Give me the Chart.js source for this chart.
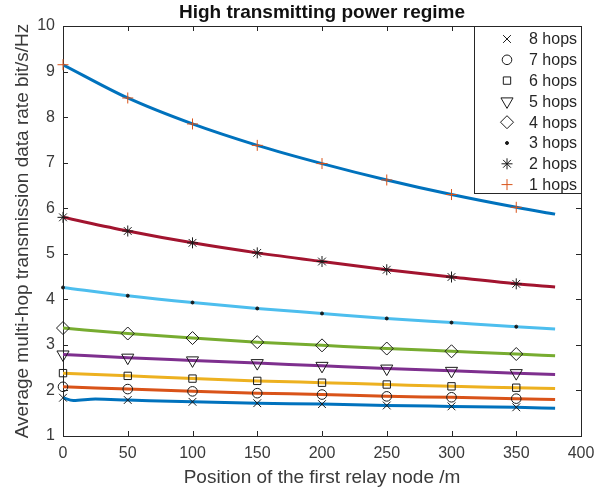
<!DOCTYPE html>
<html>
<head>
<meta charset="utf-8">
<script src="https://cdn.jsdelivr.net/npm/chart.js@4.4.1/dist/chart.umd.min.js"></script>
<style>
  html, body { margin: 0; padding: 0; background: #fff; }
</style>
</head>
<body>
<canvas id="rate" width="607" height="491"></canvas>
<script>
// relay position (m) where markers sit, and where the curves stop
const positions = [0, 50, 100, 150, 200, 250, 300, 350];
const curveEnd = 380;

// average data rate (bit/s/Hz) at each position, last value is at curveEnd
const hops1 = [9.15, 8.42, 7.85, 7.38, 6.98, 6.62, 6.30, 6.02, 5.87];
const hops2 = [5.80, 5.50, 5.24, 5.02, 4.83, 4.65, 4.49, 4.34, 4.27];
const hops3 = [4.26, 4.08, 3.93, 3.80, 3.69, 3.58, 3.49, 3.40, 3.35];
const hops4 = [3.37, 3.25, 3.15, 3.06, 2.99, 2.92, 2.86, 2.80, 2.76];
const hops5 = [2.79, 2.72, 2.66, 2.60, 2.54, 2.48, 2.43, 2.38, 2.35];
const hops6 = [2.38, 2.32, 2.26, 2.21, 2.17, 2.13, 2.09, 2.06, 2.04];
const hops7 = [2.08, 2.03, 1.98, 1.94, 1.91, 1.87, 1.85, 1.82, 1.80];
const hops8 = [1.84, 1.79, 1.75, 1.72, 1.70, 1.67, 1.65, 1.63, 1.61];
// small wiggle of the 8 hops curve close to the source
const hops8DipX = [8, 25];
const hops8Dip = [1.78, 1.81];

const labels = ['1 hops', '2 hops', '3 hops', '4 hops', '5 hops', '6 hops', '7 hops', '8 hops'];
const series = [hops1, hops2, hops3, hops4, hops5, hops6, hops7, hops8];

const xTicks = [0, 50, 100, 150, 200, 250, 300, 350, 400];
const yTicks = [1, 2, 3, 4, 5, 6, 7, 8, 9, 10];

const chartTitle = 'High transmitting power regime';

// matlab default line colours
const lineColors = ['#0072BD', '#A2142F', '#4DBEEE', '#77AC30', '#7E2F8E', '#EDB120', '#D95319', '#0072BD'];
const markers = [
  { style: 'cross', radius: 5.5, color: '#D95319' },
  { style: 'star', radius: 5.5, color: '#1a1a1a' },
  { style: 'circle', radius: 1.5, color: '#1a1a1a', fill: true },
  { style: 'rectRot', radius: 6.5, color: '#1a1a1a' },
  { style: 'triangle', radius: 7, color: '#1a1a1a', rotation: 180 },
  { style: 'rect', radius: 5.2, color: '#1a1a1a' },
  { style: 'circle', radius: 4.8, color: '#1a1a1a' },
  { style: 'crossRot', radius: 5.5, color: '#1a1a1a' }
];

const axisColor = '#262626';
const textColor = '#3a3a3a';
const fontFamily = '"Liberation Sans", Arial, Helvetica, sans-serif';

function curvePoints(values, extraX, extraY) {
  const xs = positions.concat([curveEnd]);
  const pts = xs.map((x, i) => ({ x: x, y: values[i] }));
  if (extraX) {
    extraX.forEach((x, i) => pts.push({ x: x, y: extraY[i] }));
    pts.sort((a, b) => a.x - b.x);
  }
  return pts;
}

const datasets = [];
series.forEach((values, i) => {
  datasets.push({
    label: labels[i] + ' curve',
    data: i === 7 ? curvePoints(values, hops8DipX, hops8Dip) : curvePoints(values),
    showLine: true,
    borderColor: lineColors[i],
    borderWidth: 3,
    pointRadius: 0,
    cubicInterpolationMode: 'monotone',
    order: 2
  });
});
series.forEach((values, i) => {
  const m = markers[i];
  datasets.push({
    label: labels[i],
    data: positions.map((x, j) => ({ x: x, y: values[j] })),
    showLine: false,
    clip: false,
    pointStyle: m.style,
    pointRadius: m.radius,
    pointRotation: m.rotation || 0,
    pointBorderColor: m.color,
    pointBackgroundColor: m.fill ? m.color : 'rgba(0,0,0,0)',
    pointBorderWidth: 1,
    order: 1
  });
});

// box around the axes, inward ticks, title over the plot and the legend in the top right corner
const axesBox = {
  id: 'axesBox',
  afterDraw(chart) {
    const { ctx, chartArea: a, scales } = chart;
    const tick = 5;
    ctx.save();
    ctx.strokeStyle = axisColor;
    ctx.lineWidth = 1;
    ctx.beginPath();
    ctx.moveTo(a.left, a.top + 0.5);
    ctx.lineTo(a.right + 0.5, a.top + 0.5);
    ctx.lineTo(a.right + 0.5, a.bottom);
    xTicks.forEach(v => {
      const px = Math.round(scales.x.getPixelForValue(v)) + 0.5;
      ctx.moveTo(px, a.bottom);
      ctx.lineTo(px, a.bottom - tick);
      ctx.moveTo(px, a.top);
      ctx.lineTo(px, a.top + tick);
    });
    yTicks.forEach(v => {
      const py = Math.round(scales.y.getPixelForValue(v)) + 0.5;
      ctx.moveTo(a.left, py);
      ctx.lineTo(a.left + tick, py);
      ctx.moveTo(a.right, py);
      ctx.lineTo(a.right - tick, py);
    });
    ctx.stroke();

    // title centred over the axes
    ctx.fillStyle = '#111';
    ctx.font = 'bold 19px ' + fontFamily;
    ctx.textAlign = 'center';
    ctx.textBaseline = 'middle';
    ctx.fillText(chartTitle, (a.left + a.right) / 2, 13);

    // legend, 8 hops first
    const w = 107, h = 167;
    const lx = a.right - w, ly = a.top;
    ctx.fillStyle = '#fff';
    ctx.fillRect(lx, ly, w, h);
    ctx.strokeRect(Math.round(lx) + 0.5, Math.round(ly) + 0.5, w, h);
    ctx.font = '16px ' + fontFamily;
    ctx.textBaseline = 'middle';
    ctx.textAlign = 'left';
    for (let k = 0; k < 8; k++) {
      const i = 7 - k;
      const m = markers[i];
      const cy = ly + 13 + k * 20.8;
      ctx.strokeStyle = m.color;
      ctx.fillStyle = m.fill ? m.color : 'rgba(0,0,0,0)';
      ctx.lineWidth = 1;
      Chart.helpers.drawPoint(ctx, {
        pointStyle: m.style,
        radius: m.radius,
        rotation: m.rotation || 0,
        borderWidth: 1
      }, lx + 33, cy);
      ctx.fillStyle = '#262626';
      ctx.fillText(labels[i], lx + 55, cy + 1);
    }
    ctx.restore();
  }
};

new Chart(document.getElementById('rate'), {
  type: 'scatter',
  data: { datasets: datasets },
  options: {
    responsive: false,
    animation: false,
    layout: { padding: { top: 26, right: 26, bottom: 0, left: 0 } },
    plugins: {
      legend: { display: false },
      tooltip: { enabled: false },
      title: { display: false }
    },
    scales: {
      x: {
        type: 'linear',
        min: 0,
        max: 400,
        afterBuildTicks: scale => { scale.ticks = xTicks.map(v => ({ value: v })); },
        afterFit: scale => { scale.height = 55; },
        grid: { display: false, drawTicks: false },
        border: { color: axisColor, width: 1 },
        ticks: { color: textColor, padding: 8, maxRotation: 0, font: { family: fontFamily, size: 16 } },
        title: {
          display: true,
          text: 'Position of the first relay node /m',
          color: textColor,
          font: { family: fontFamily, size: 19 },
          padding: { top: 0, bottom: 2 }
        }
      },
      y: {
        type: 'linear',
        min: 1,
        max: 10,
        afterBuildTicks: scale => { scale.ticks = yTicks.map(v => ({ value: v })); },
        afterFit: scale => { scale.width = 63; },
        grid: { display: false, drawTicks: false },
        border: { color: axisColor, width: 1 },
        ticks: { color: textColor, padding: 8, font: { family: fontFamily, size: 16 } },
        title: {
          display: true,
          text: 'Average multi-hop transmission data rate bit/s/Hz',
          color: textColor,
          font: { family: fontFamily, size: 19 },
          padding: { top: 11, bottom: 0 }
        }
      }
    }
  },
  plugins: [axesBox]
});
</script>
</body>
</html>
